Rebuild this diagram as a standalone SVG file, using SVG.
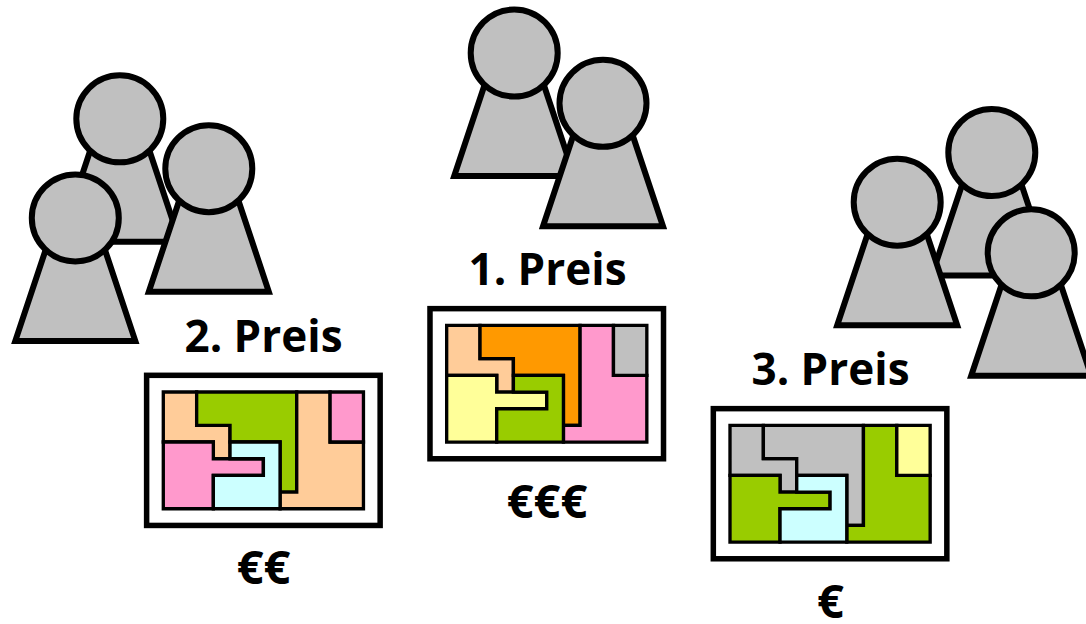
<svg xmlns="http://www.w3.org/2000/svg" width="1086" height="624" viewBox="0 0 1086 624">
<style>
.bg{fill:#fff}
.p{fill:#c0c0c0;stroke:#000;stroke-width:6}
.f{fill:#fff;stroke:#000;stroke-width:.33}
.m{stroke:#000;stroke-width:.2;stroke-linejoin:miter}
.peach{fill:#fc9}.orange{fill:#f90}.pink{fill:#f9c}.grey{fill:#c0c0c0}.yellow{fill:#ff9}.green{fill:#9c0}.cyan{fill:#cff}
text{font-family:"Open Sans","Noto Sans","Liberation Sans",sans-serif;font-weight:700;fill:#000;text-anchor:middle}
.t{font-size:44px}
.e{font-size:47px}
</style>
<defs>
<g id="person"><path class="p" d="M-19 0H19L60 123H-60Z"/><circle class="p" r="43.500"/></g>
<path id="a" d="M0 0H2V2H4V4H3V3H0Z"/>
<path id="b" d="M2 0H8V6H7V3H4V2H2Z"/>
<path id="c" d="M8 0H10V3H12V7H7V6H8Z"/>
<path id="d" d="M10 0H12V3H10Z"/>
<path id="e" d="M0 3H3V4H6V5H3V7H0Z"/>
<path id="g" d="M4 3H7V7H3V5H6V4H4Z"/>
</defs>
<rect class="bg" width="1086" height="624"/>
<g id="team2">
<use href="#person" x="119.800" y="118.800"/>
<use href="#person" x="208.800" y="168.700"/>
<use href="#person" x="75.300" y="217.900"/>
</g>
<g id="team1">
<use href="#person" x="514.200" y="53"/>
<use href="#person" x="603" y="103.300"/>
</g>
<g id="team3">
<use href="#person" x="991.800" y="152.500"/>
<use href="#person" x="897.200" y="202.200"/>
<use href="#person" x="1031.200" y="252.800"/>
</g>
<g id="map2" transform="translate(163.300 392) scale(16.680)">
<rect class="f" x="-1" y="-1" width="14" height="9"/>
<g class="m">
<use href="#a" class="peach"/><use href="#b" class="green"/><use href="#c" class="peach"/><use href="#d" class="pink"/><use href="#e" class="pink"/><use href="#g" class="cyan"/>
</g>
</g>
<g id="map1" transform="translate(446.670 325.330) scale(16.680)">
<rect class="f" x="-1" y="-1" width="14" height="9"/>
<g class="m">
<use href="#a" class="peach"/><use href="#b" class="orange"/><use href="#c" class="pink"/><use href="#d" class="grey"/><use href="#e" class="yellow"/><use href="#g" class="green"/>
</g>
</g>
<g id="map3" transform="translate(730 425.330) scale(16.680)">
<rect class="f" x="-1" y="-1" width="14" height="9"/>
<g class="m">
<use href="#a" class="grey"/><use href="#b" class="grey"/><use href="#c" class="green"/><use href="#d" class="yellow"/><use href="#e" class="green"/><use href="#g" class="cyan"/>
</g>
</g>
<g id="labels">
<text class="t" x="547.500" y="284.500">1. Preis</text>
<text class="t" x="263.500" y="351.500">2. Preis</text>
<text class="t" x="830.500" y="384.500">3. Preis</text>
<text class="e" x="547" y="518">€€€</text>
<text class="e" x="263.500" y="584">€€</text>
<text class="e" x="830.500" y="618">€</text>
</g>
</svg>
